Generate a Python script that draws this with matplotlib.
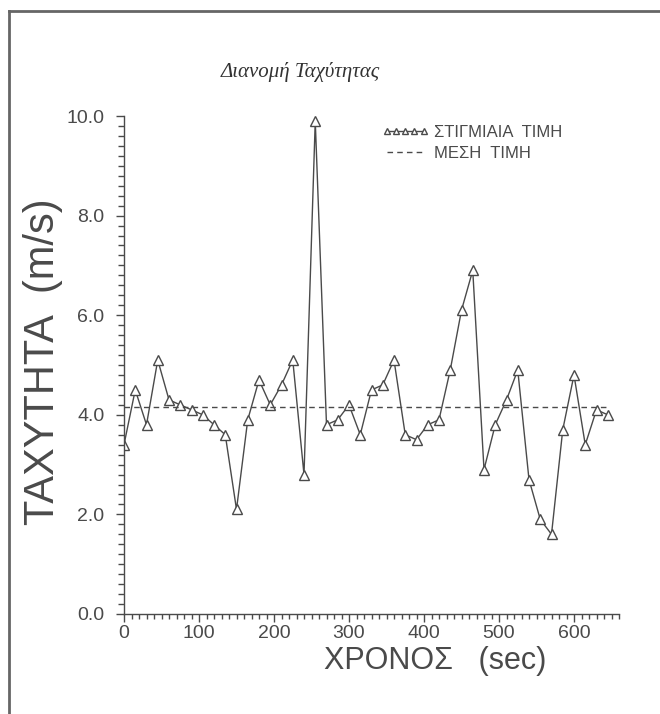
import numpy as np
import matplotlib
matplotlib.use("Agg")
import matplotlib.pyplot as plt
from matplotlib.lines import Line2D
from matplotlib.ticker import MultipleLocator, FormatStrFormatter

# time step 15 s, 44 readings
time_sec = np.arange(0, 660, 15)
speed = [3.4, 4.5, 3.8, 5.1, 4.3, 4.2, 4.1, 4.0, 3.8, 3.6,
         2.1, 3.9, 4.7, 4.2, 4.6, 5.1, 2.8, 9.9, 3.8, 3.9,
         4.2, 3.6, 4.5, 4.6, 5.1, 3.6, 3.5, 3.8, 3.9, 4.9,
         6.1, 6.9, 2.9, 3.8, 4.3, 4.9, 2.7, 1.9, 1.6, 3.7,
         4.8, 3.4, 4.1, 4.0]
mean_speed = np.mean(speed)

label_inst = "ΣΤΙΓΜΙΑΙΑ  ΤΙΜΗ"
label_mean = "ΜΕΣΗ  ΤΙΜΗ"

grey = "#4a4a4a"
plt.rcParams['font.family'] = ['Liberation Sans', 'DejaVu Sans']

fig = plt.figure(figsize=(6.6, 7.14), dpi=100)
ax = fig.add_axes([124/660, 100/714, 495/660, 498/714])

ax.plot(time_sec, speed, '-', color=grey, lw=1.0, marker='^', ms=6.5,
        mfc='white', mec=grey, mew=1.0, label=label_inst)
ax.plot([time_sec[0], time_sec[-1]], [mean_speed, mean_speed], '--',
        color=grey, lw=1.0, dashes=(4, 3), label=label_mean)

ax.set_xlim(0, 660)
ax.set_ylim(0, 10)
ax.xaxis.set_major_locator(MultipleLocator(100))
ax.xaxis.set_minor_locator(MultipleLocator(10))
ax.yaxis.set_major_locator(MultipleLocator(2))
ax.yaxis.set_minor_locator(MultipleLocator(0.2))
ax.yaxis.set_major_formatter(FormatStrFormatter('%.1f'))

for s in ['top', 'right']:
    ax.spines[s].set_visible(False)
for s in ['left', 'bottom']:
    ax.spines[s].set_color(grey)
    ax.spines[s].set_linewidth(1.0)

ax.tick_params(which='both', direction='out', color=grey, width=1.0,
               labelcolor=grey, labelsize=14)
ax.tick_params(axis='x', which='major', length=6, pad=2)
ax.tick_params(axis='x', which='minor', length=3.5)
ax.tick_params(axis='y', which='major', length=6, pad=8)
ax.tick_params(axis='y', which='minor', length=4)

leg = ax.legend(loc='upper left', bbox_to_anchor=(382/660, (714-125)/714),
                bbox_transform=fig.transFigure, frameon=False, numpoints=5,
                fontsize=12, handlelength=2.8, handletextpad=0.3,
                labelspacing=0.35, borderpad=0, borderaxespad=0)
for t in leg.get_texts():
    t.set_color(grey)
for h in leg.legend_handles:
    h.set_markersize(5)

fig.text(300/660, 1 - 72/714, "Διανομή Ταχύτητας", ha='center', va='center',
         fontsize=15, style='italic', family=['Liberation Serif', 'DejaVu Serif'],
         color='#333333')
fig.text(43/660, 1 - 362/714, "ΤΑΧΥΤΗΤΑ  (m/s)", rotation=90, ha='center',
         va='center', fontsize=30, color=grey)
fig.text(435/660, 1 - 661/714, "ΧΡΟΝΟΣ   (sec)", ha='center', va='center',
         fontsize=22, color=grey)

# page frame
fig.add_artist(Line2D([9/660, 9/660], [0, 1 - 11/714], transform=fig.transFigure,
                      color='#666666', lw=2))
fig.add_artist(Line2D([9/660, 1], [1 - 11/714, 1 - 11/714], transform=fig.transFigure,
                      color='#666666', lw=2))

fig.savefig("out.png", dpi=100, facecolor='white')
